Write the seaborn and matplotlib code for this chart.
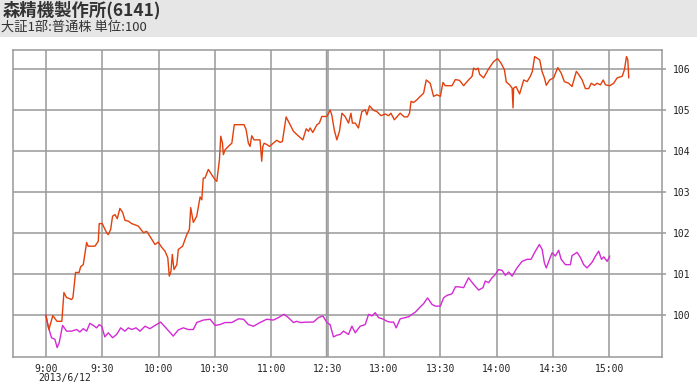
import matplotlib
matplotlib.use("Agg")
import matplotlib.pyplot as plt
import seaborn as sns
import pandas as pd
from matplotlib.patches import Rectangle

# ---- data (x = trading minutes since 9:00, lunch break removed; 150 = 11:30/12:30) ----
stock_t = [0, 1.6, 3.7, 5.9, 8.5, 9.6, 11.0, 13.7, 14.4, 15.8, 17.7, 18.5, 19.9, 21.7, 22.5, 26.1,
           27.9, 28.4, 30.0, 32.3, 33.2, 34.5, 35.5, 36.8, 38.0, 39.4, 40.9, 42.1, 43.9, 45.7, 49.2,
           51.9, 53.7, 55.4, 58.1, 59.8, 61.7, 63.4, 64.9, 65.7, 66.6, 67.3, 68.2, 69.7, 70.5, 72.8,
           75.0, 76.4, 77.1, 78.5, 80.3, 82.1, 83.0, 83.8, 84.7, 86.5, 88.3, 90.1, 91.0, 92.4, 93.1,
           94.0, 94.5, 95.4, 97.1, 99.0, 100.3, 105.5, 106.6, 107.8, 108.7, 109.6, 110.8, 114.0, 114.9,
           115.5, 116.2, 117.9, 119.0, 121.1, 122.9, 124.7, 125.9, 127.9, 130.0, 131.8, 133.6, 136.8,
           138.6, 139.8, 140.7, 142.1, 144.3, 145.6, 146.9, 149.6,
           151.3, 152.2, 153.5, 154.9, 156.3, 157.6, 159.3, 161.1, 162.4, 163.2, 164.7, 166.4, 168.2,
           170.0, 170.9, 172.3, 174.4, 176.2, 178.4, 180.7, 182.5, 183.7, 185.5, 186.9, 188.6, 190.8,
           192.5, 193.6, 194.4, 195.7, 197.6, 199.3, 201.1, 202.5, 204.6, 206.4, 208.2, 210.0, 211.4,
           212.6, 216.2, 218.0, 220.2, 222.4, 225.0, 226.9, 227.7, 229.0, 230.1, 230.9, 233.0, 235.7,
           238.4, 240.5, 242.3, 244.1, 245.1, 246.9, 248.2, 248.7, 249.0, 250.3, 252.2, 254.4, 256.2,
           257.9, 259.0, 260.2, 262.9, 264.1, 265.4, 266.4, 268.2, 270.3, 272.5, 274.3, 276.0, 278.3,
           280.1, 282.4, 283.7, 285.5, 287.2, 289.0, 290.3, 292.0, 293.5, 295.2, 296.7, 297.9, 300.2,
           302.3, 304.1, 306.8, 308.0, 309.1, 309.8, 310.3]
stock_v = [100.0, 99.65, 99.99, 99.85, 99.85, 100.55, 100.43, 100.38, 100.43, 101.04, 101.04, 101.18,
           101.23, 101.77, 101.68, 101.68, 101.80, 102.23, 102.23, 102.01, 101.96, 102.09, 102.41,
           102.45, 102.35, 102.60, 102.50, 102.31, 102.29, 102.23, 102.17, 102.01, 102.04, 101.92,
           101.72, 101.78, 101.65, 101.56, 101.40, 100.95, 101.07, 101.48, 101.11, 101.23, 101.60,
           101.68, 101.96, 102.09, 102.62, 102.26, 102.41, 102.88, 102.81, 103.34, 103.34, 103.55,
           103.42, 103.30, 103.26, 103.79, 104.36, 104.19, 103.91, 104.03, 104.11, 104.19, 104.64,
           104.64, 104.52, 104.19, 104.11, 104.37, 104.27, 104.27, 103.75, 104.11, 104.19, 104.15,
           104.11, 104.19, 104.26, 104.21, 104.23, 104.83, 104.64, 104.48, 104.40, 104.27, 104.54,
           104.48, 104.56, 104.45, 104.64, 104.68, 104.84, 104.84,
           105.00, 104.88, 104.52, 104.27, 104.48, 104.92, 104.84, 104.68, 104.92, 104.68, 104.68,
           104.56, 104.96, 105.00, 104.88, 105.10, 104.99, 104.96, 104.86, 104.90, 104.86, 104.92,
           104.76, 104.83, 104.92, 104.83, 104.83, 104.92, 105.21, 105.18, 105.25, 105.33, 105.41,
           105.73, 105.65, 105.33, 105.37, 105.33, 105.67, 105.59, 105.59, 105.74, 105.72, 105.59,
           105.73, 105.82, 106.02, 105.98, 106.02, 105.87, 105.78, 106.00, 106.18, 106.25, 106.14,
           105.98, 105.68, 105.61, 105.53, 105.05, 105.53, 105.57, 105.39, 105.73, 105.69, 105.82,
           105.94, 106.30, 106.22, 105.94, 105.78, 105.60, 105.73, 105.78, 106.03, 105.90, 105.69,
           105.65, 105.57, 105.94, 105.86, 105.73, 105.52, 105.52, 105.65, 105.60, 105.65, 105.61,
           105.73, 105.61, 105.59, 105.65, 105.78, 105.82, 105.98, 106.30, 106.22, 105.78]

index_t = [0, 1.2, 3.0, 4.8, 6.0, 7.1, 8.9, 11.0, 13.7, 16.4, 18.1, 19.9, 21.7, 23.4, 25.2, 27.0,
           28.4, 29.7, 31.4, 33.2, 35.5, 37.7, 39.8, 42.1, 43.9, 45.7, 48.0, 50.1, 52.8, 55.4, 58.1,
           61.1, 64.3, 67.8, 70.5, 73.2, 75.8, 78.5, 80.3, 83.8, 87.4, 90.1, 92.7, 95.4, 99.0, 102.5,
           105.2, 107.8, 110.5, 114.0, 117.6, 121.1, 123.8, 126.8, 129.1, 131.8, 133.6, 135.4, 138.9,
           142.4, 145.1, 147.5, 149.6, 151.3, 153.1, 154.9, 156.7, 158.4, 161.1, 162.9, 164.7, 167.3,
           170.0, 171.8, 173.6, 175.3, 177.1, 179.7, 181.6, 183.3, 185.1, 186.5, 188.6, 191.3, 193.1,
           194.9, 196.6, 199.3, 201.1, 203.2, 205.6, 207.3, 210.0, 211.7, 213.5, 216.2, 218.0, 219.7,
           222.4, 225.0, 227.7, 230.4, 232.7, 233.9, 235.7, 237.5, 239.3, 241.0, 242.9, 244.6, 246.4,
           248.2, 250.8, 253.5, 256.2, 258.3, 260.6, 262.7, 264.2, 265.4, 266.4, 267.7, 269.5, 271.2,
           273.0, 274.3, 276.6, 279.2, 280.1, 282.8, 284.6, 286.3, 288.1, 290.8, 292.6, 294.3, 295.8,
           297.0, 298.8, 300.2]
index_v = [100.00, 99.73, 99.45, 99.41, 99.21, 99.33, 99.75, 99.61, 99.61, 99.65, 99.59, 99.67, 99.61,
           99.80, 99.75, 99.69, 99.77, 99.73, 99.47, 99.57, 99.45, 99.53, 99.69, 99.61, 99.69, 99.65,
           99.69, 99.61, 99.73, 99.67, 99.75, 99.83, 99.67, 99.49, 99.64, 99.69, 99.65, 99.65, 99.82,
           99.88, 99.90, 99.75, 99.77, 99.82, 99.82, 99.91, 99.90, 99.77, 99.73, 99.82, 99.90, 99.88,
           99.94, 100.02, 99.94, 99.82, 99.85, 99.82, 99.83, 99.83, 99.94, 99.98, 99.82, 99.77, 99.47,
           99.51, 99.53, 99.61, 99.53, 99.73, 99.57, 99.73, 99.77, 100.02, 99.98, 100.06, 99.94, 99.90,
           99.85, 99.83, 99.83, 99.69, 99.91, 99.94, 99.96, 100.02, 100.07, 100.20, 100.28, 100.42,
           100.26, 100.22, 100.22, 100.42, 100.48, 100.52, 100.69, 100.69, 100.67, 100.91, 100.75,
           100.61, 100.67, 100.83, 100.79, 100.91, 100.99, 101.11, 101.09, 100.97, 101.05, 100.95,
           101.15, 101.31, 101.36, 101.36, 101.56, 101.72, 101.60, 101.27, 101.15, 101.31, 101.52,
           101.44, 101.58, 101.36, 101.23, 101.23, 101.45, 101.53, 101.40, 101.23, 101.15, 101.29,
           101.44, 101.56, 101.36, 101.42, 101.31, 101.44]

tick_pos = [0, 30, 60, 90, 120, 150, 180, 210, 240, 270, 300]
tick_labels = ["9:00", "9:30", "10:00", "10:30", "11:00", "12:30", "13:00", "13:30", "14:00", "14:30", "15:00"]
y_ticks = [100, 101, 102, 103, 104, 105, 106]
date_label = "2013/6/12"
title = "森精機製作所(6141)"
subtitle = "大証1部:普通株 単位:100"

# ---- plotting ----
sns.set_style("white")
plt.rcParams["font.family"] = ["Noto Sans CJK JP", "DejaVu Sans"]

W, H = 697, 383
fig = plt.figure(figsize=(W / 100, H / 100), dpi=100)
fig.patch.set_facecolor("white")
fig.patches.append(Rectangle((0, 1 - 37 / H), 1, 37 / H, transform=fig.transFigure,
                             facecolor="#e6e6e6", edgecolor="none", zorder=0))
fig.text(3 / W, 1 - 10 / H, title, fontsize=12.5, fontweight="bold", color="#333333",
         va="center", ha="left")
fig.text(1 / W, 1 - 27 / H, subtitle, fontsize=9.5, color="#333333", va="center", ha="left")

ax = fig.add_axes([13 / W, 1 - 357 / H, (662 - 13) / W, (357 - 50) / H])
grid_c = "#999999"

df_s = pd.DataFrame({"t": stock_t, "v": stock_v})
df_i = pd.DataFrame({"t": index_t, "v": index_v})
sns.lineplot(data=df_i, x="t", y="v", ax=ax, color="#d42ad4", linewidth=1.0, sort=False, zorder=3)
sns.lineplot(data=df_s, x="t", y="v", ax=ax, color="#e2400c", linewidth=1.0, sort=False, zorder=4)

ax.set_xlim(-17.5, 328)
ax.set_ylim(98.98, 106.46)
ax.set_xticks(tick_pos)
ax.set_xticklabels(tick_labels)
ax.set_yticks(y_ticks)
ax.set_yticklabels([str(v) for v in y_ticks])
ax.yaxis.tick_right()
ax.set_xlabel("")
ax.set_ylabel("")
ax.grid(True, color=grid_c, linewidth=1.1)
ax.axvline(149.0, color=grid_c, linewidth=1.0, zorder=1)
ax.tick_params(axis="both", length=3, color=grid_c, labelsize=7, labelcolor="#222222",
               width=1.1, pad=2)
ax.tick_params(axis="y", pad=5)
for s in ax.spines.values():
    s.set_color(grid_c)
    s.set_linewidth(1.1)
    s.set_visible(True)
for lbl in ax.get_xticklabels() + ax.get_yticklabels():
    lbl.set_family(["DejaVu Sans Mono", "DejaVu Sans"])

ax.text(38 / W, 1 - 378 / H, date_label, transform=fig.transFigure, fontsize=7,
        family=["DejaVu Sans Mono", "DejaVu Sans"], color="#222222", va="center", ha="left")

fig.savefig("out.png", dpi=100)
